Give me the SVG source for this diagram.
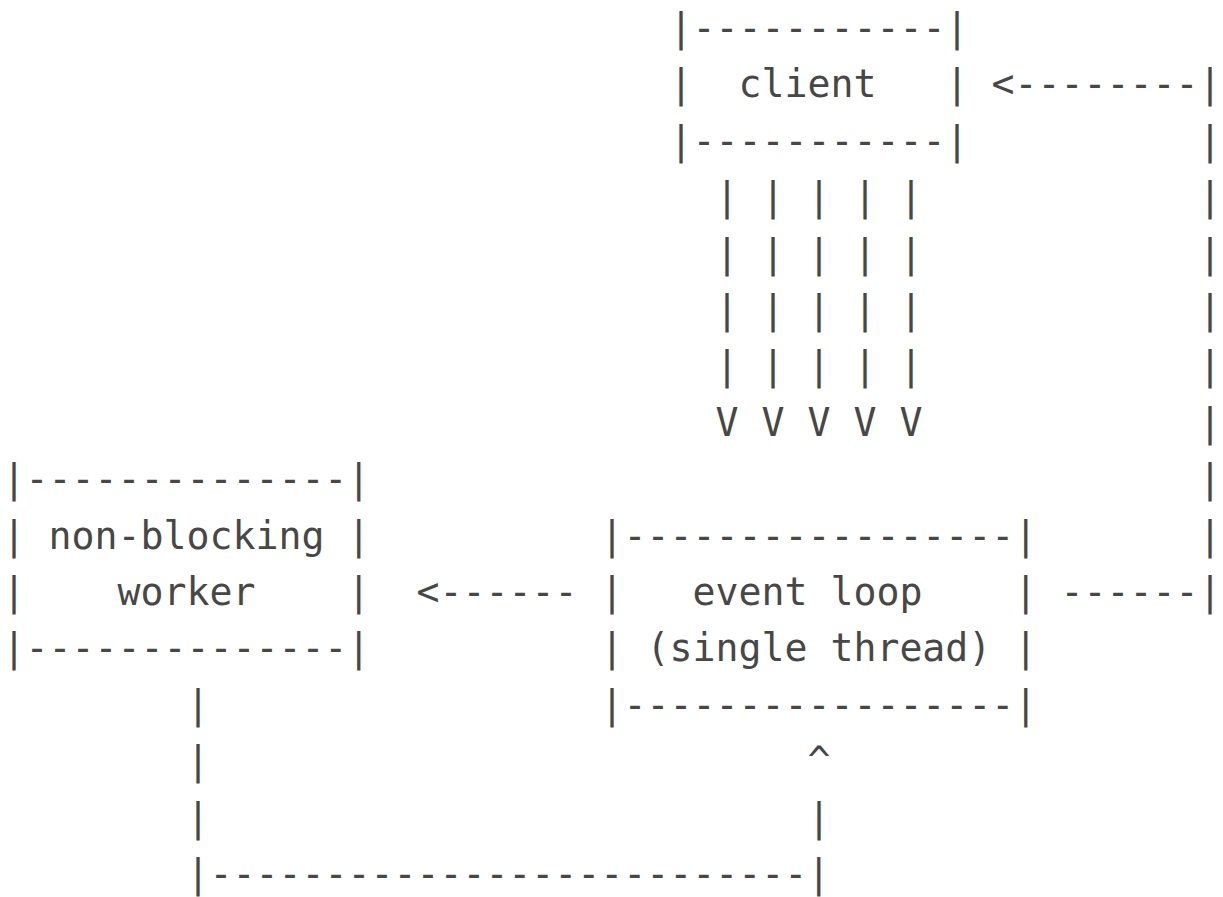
<svg xmlns="http://www.w3.org/2000/svg" width="1223" height="897" viewBox="0 0 1223 897" xml:space="preserve">
<style>
text { font-family: "DejaVu Sans Mono", "Liberation Mono", monospace; font-size: 38.2px; fill: #474747; white-space: pre; }
</style>
<rect x="0" y="0" width="1223" height="897" fill="#ffffff"/>
<g id="node-client">
<text x="669.5" y="41">|-----------|</text>
<text x="669.5" y="97.4">|  client   |</text>
<text x="669.5" y="153.8">|-----------|</text>
</g>
<g id="node-worker">
<text x="2.5" y="492.2">|--------------|</text>
<text x="2.5" y="548.6">| non-blocking |</text>
<text x="2.5" y="605">|    worker    |</text>
<text x="2.5" y="661.4">|--------------|</text>
</g>
<g id="node-event-loop">
<text x="600.5" y="548.6">|-----------------|</text>
<text x="600.5" y="605">|   event loop    |</text>
<text x="600.5" y="661.4">| (single thread) |</text>
<text x="600.5" y="717.8">|-----------------|</text>
</g>
<g id="connectors">
<text x="715.5" y="210.2">| | | | |</text>
<text x="715.5" y="266.6">| | | | |</text>
<text x="715.5" y="323">| | | | |</text>
<text x="715.5" y="379.4">| | | | |</text>
<text x="715.5" y="435.8">V V V V V</text>
<text x="991.5" y="97.4">&lt;--------|</text>
<text x="1198.5" y="153.8">|</text>
<text x="1198.5" y="210.2">|</text>
<text x="1198.5" y="266.6">|</text>
<text x="1198.5" y="323">|</text>
<text x="1198.5" y="379.4">|</text>
<text x="1198.5" y="435.8">|</text>
<text x="1198.5" y="492.2">|</text>
<text x="1198.5" y="548.6">|</text>
<text x="1060.5" y="605">------|</text>
<text x="416.5" y="605">&lt;------</text>
<text x="186.5" y="717.8">|</text>
<text x="186.5" y="774.2">|</text>
<text x="186.5" y="830.6">|</text>
<text x="186.5" y="887">|--------------------------|</text>
<text x="807.5" y="774.2">^</text>
<text x="807.5" y="830.6">|</text>
</g>
</svg>
